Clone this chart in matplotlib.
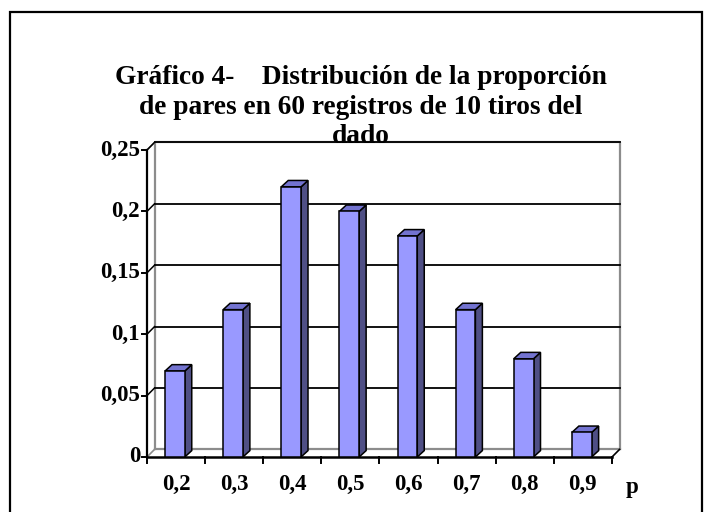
import matplotlib.pyplot as plt
from matplotlib.patches import Polygon, Rectangle

# data
categories = ['0,2', '0,3', '0,4', '0,5', '0,6', '0,7', '0,8', '0,9']
proportions = [0.07, 0.12, 0.22, 0.20, 0.18, 0.12, 0.08, 0.02]
y_ticks = [0, 0.05, 0.10, 0.15, 0.20, 0.25]
y_labels = ['0', '0,05', '0,1', '0,15', '0,2', '0,25']
title_lines = ['Gráfico 4-    Distribución de la proporción',
               'de pares en 60 registros de 10 tiros del',
               'dado']

W, H = 707, 512
plt.rcParams['font.family'] = ['Liberation Serif', 'DejaVu Serif']
plt.rcParams['font.weight'] = 'bold'

fig = plt.figure(figsize=(W / 100, H / 100), dpi=100)
fig.patch.set_facecolor('white')

# outer chart border
fig.patches.append(Rectangle((10 / W, -0.05), 692 / W, 1.05 - 12 / H, transform=fig.transFigure,
                             fill=False, edgecolor='black', linewidth=1.6))

# plot area (front plane)
left, right, top, bottom = 147, 612, 150, 457
ax = fig.add_axes([left / W, 1 - bottom / H, (right - left) / W, (bottom - top) / H])
ax.set_xlim(0, len(categories))
ax.set_ylim(0, 0.25)
ax.axis('off')

# depth of the 3d box in data units
dx, dy = 0.13, 0.0062
n = len(categories)
gray = '#8c8c8c'

# back wall + floor + side wall
ax.plot([dx, dx, n + dx, n + dx], [dy, 0.25 + dy, 0.25 + dy, dy], color=gray, lw=1.6, clip_on=False)
ax.plot([dx, n + dx], [dy, dy], color=gray, lw=1.6, clip_on=False)
ax.plot([0, dx], [0.25, 0.25 + dy], color=gray, lw=1.2, clip_on=False)
ax.plot([0, dx], [0, dy], color=gray, lw=1.2, clip_on=False)
ax.plot([n, n + dx], [0, dy], color='black', lw=1.2, clip_on=False)

# gridlines on back wall and left wall
for t in y_ticks[1:]:
    ax.plot([dx, n + dx], [t + dy, t + dy], color='black', lw=1.3, clip_on=False)
    ax.plot([0, dx], [t, t + dy], color='black', lw=1.1, clip_on=False)

# axes lines and ticks
ax.plot([0, 0], [0, 0.25], color='black', lw=1.6, clip_on=False)
ax.plot([0, n], [0, 0], color='black', lw=1.8, clip_on=False)
for t, lab in zip(y_ticks, y_labels):
    ax.plot([-0.08, 0], [t, t], color='black', lw=1.4, clip_on=False)
    ax.annotate(lab, (0, t), xytext=(-7, 0), textcoords='offset pixels', ha='right', va='center',
                fontsize=16.5, fontweight='bold')
for i in range(n + 1):
    ax.plot([i, i], [0, -0.005], color='black', lw=1.4, clip_on=False)
for i, lab in enumerate(categories):
    ax.annotate(lab, (i + 0.5, 0), xytext=(0, -27), textcoords='offset pixels', ha='center', va='center',
                fontsize=16.5, fontweight='bold')
ax.annotate('p', (n, 0), xytext=(20, -36), textcoords='offset pixels', ha='center', va='baseline',
            fontsize=16.5, fontweight='bold')

# 3d bars
face, top_c, side_c = '#9999FF', '#7373D0', '#4F4F85'
bdx, bdy = 0.12, 0.0052
for i, v in enumerate(proportions):
    x0, x1 = i + 0.31, i + 0.65
    ax.add_patch(Polygon([(x1, 0), (x1 + bdx, bdy), (x1 + bdx, v + bdy), (x1, v)],
                         facecolor=side_c, edgecolor='black', lw=1.1, clip_on=False, zorder=3))
    ax.add_patch(Polygon([(x0, v), (x1, v), (x1 + bdx, v + bdy), (x0 + bdx, v + bdy)],
                         facecolor=top_c, edgecolor='black', lw=1.1, clip_on=False, zorder=3))
    ax.add_patch(Rectangle((x0, 0), x1 - x0, v, facecolor=face, edgecolor='black', lw=1.1,
                           clip_on=False, zorder=4))

# title
for k, line in enumerate(title_lines):
    fig.text(361 / W, 1 - (84 + 29.5 * k) / H, line, ha='center', va='baseline',
             fontsize=19.7, fontweight='bold')

fig.savefig('out.png', dpi=100)
